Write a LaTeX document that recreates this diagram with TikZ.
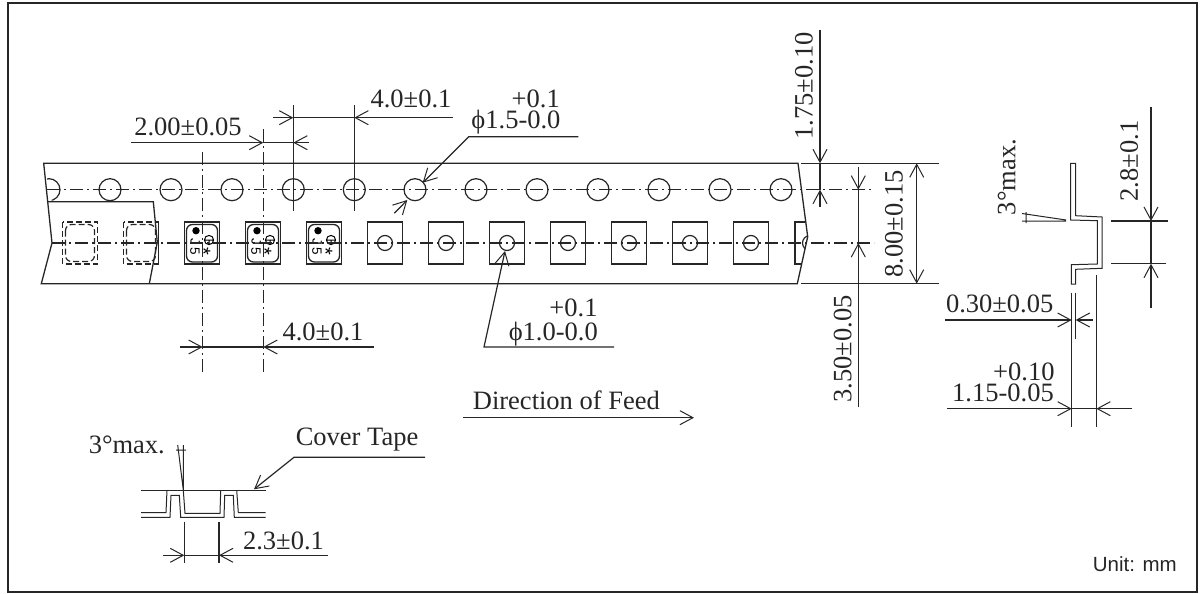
\documentclass[tikz,border=0pt]{standalone}
\usepackage{fontspec}
\setmainfont{Liberation Serif}
\setsansfont{Liberation Sans}
\usepackage{xcolor}
\usepackage{tikz}
\usetikzlibrary{arrows.meta}
\colorlet{inkgray}{black!85}
\newcommand\dimfont{\fontsize{26.5}{26.5}\selectfont}
\tikzstyle{dimhead}=[>/.tip={Straight Barb[length=13pt,width=14pt,line width=1pt]}]
\tikzstyle{dim}=[line width=1.2pt,dimhead,inkgray]
\tikzstyle{body}=[line width=1.3pt,inkgray]
\tikzstyle{fineline}=[line width=1pt,inkgray]
\tikzstyle{centerline}=[line width=1.1pt,inkgray,dash pattern=on 13pt off 4pt on 2pt off 4pt]
\tikzstyle{hidden}=[line width=1.2pt,inkgray,dash pattern=on 6pt off 3pt]
\tikzstyle{dimtext}=[inner sep=0pt,font=\dimfont,inkgray]
\tikzstyle{hole}=[circle,draw,line width=1.2pt,inkgray,minimum size=22pt,inner sep=0pt]
\tikzstyle{pinhole}=[circle,draw,line width=1.2pt,inkgray,minimum size=15pt,inner sep=0pt]
\tikzstyle{pocket}=[draw,line width=1.2pt,inkgray,minimum width=35pt,minimum height=42pt,inner sep=0pt]
\tikzstyle{marktext}=[inner sep=0pt,font=\sffamily\fontsize{13.5}{13.5}\selectfont,rotate=-90]
\newcommand\partmark[2]{%
	\node[pocket] (part#1) at (#2,243) {};
	\draw[body,rounded corners=6pt] (#2-15.5,243-18.5) rectangle (#2+15.5,243+19);
	\fill (#2-6,243-12.3) circle (3.7);
	\node[marktext] (partj#1) at (#2-6.7,243-1.3) {J};
	\node[marktext] (partv#1) at (#2-7,243+8.7) {5};
	\node[marktext,font=\sffamily\fontsize{20}{20}\selectfont] (parts#1) at (#2+1.5,243+8.7) {*};
	\draw[line width=1pt] (#2+7,243-3) circle (4.6) (#2+2.5,243-3) -- (#2+11.5,243-3) (#2+7,243-3) -- (#2+7,243+1.5);
}
\begin{document}
\begin{tikzpicture}[x=1pt,y=-1pt]
	\useasboundingbox (0,0) rectangle (1203,594);
	\draw[line width=2pt,inkgray] (8,3) rectangle (1197,592);
	% tape outline
	\draw[body] (798,163.3) -- (43.7,163.3) -- (52,243) -- (41.3,283.7) -- (797.3,283.7) -- (807.7,236.7) -- cycle;
	\draw[body] (801.3,163.3) -- (939,163.3) (801.3,283.7) -- (939,283.7);
	% cover tape
	\draw[body] (47.3,201.7) -- (153.3,201.7) -- (157.3,242.3) -- (149.3,283.7);
	% feed holes
	\begin{scope}
		\clip (43.7,163.3) -- (52,201.7) -- (70,201.7) -- (70,163.3) -- cycle;
		\node[hole] (hole0) at (49,189.7) {};
	\end{scope}
	\foreach \x [count=\i] in {110,171,232,293.3,354.3,415,476,537,598,659,720,781}
		\node[hole] (hole\i) at (\x,189.7) {};
	% pockets
	\foreach \x/\n in {80/a,141/b} {
		\draw[hidden] (\x-17.5,222) rectangle (\x+17.5,264);
		\draw[hidden,rounded corners=6pt] (\x-14.5,224.5) rectangle (\x+14.5,261.5);
	}
	\draw[body] (155,222) -- (158.7,222) -- (158.7,264) -- (155,264);
	\partmark{1}{202}
	\partmark{2}{263}
	\partmark{3}{324}
	\foreach \x [count=\i] in {385,446,507,568,629,690,751} {
		\node[pocket] (pocket\i) at (\x,243) {};
		\node[pinhole] (pin\i) at (\x,243) {};
	}
	\begin{scope}
		\clip (780,200) -- (803.7,200) -- (807.7,236.7) -- (797.3,283.7) -- (780,283.7) -- cycle;
		\node[pocket] (pocket8) at (812.5,243) {};
		\node[pinhole] (pin8) at (810,243) {};
	\end{scope}
	% center lines
	\draw[centerline] (47,189.7) -- (873,189.7);
	\draw[centerline] (52,243) -- (874,243);
	\draw[centerline] (202.7,151.7) -- (202.7,372);
	\draw[centerline] (263.3,129) -- (263.3,372);
	% pitch of the feed holes
	\draw[dim] (293.3,105) -- (293.3,210.7);
	\draw[dim] (354.3,105) -- (354.3,210.7);
	\draw[dim,->] (273,117.7) -- (293.3,117.7);
	\draw[dim] (293.3,117.7) -- (354.3,117.7);
	\draw[dim,->] (453.3,117.7) -- (354.3,117.7);
	\node[dimtext] (pitchhole) at (411,99.3) {4.0±0.1};
	% hole to pocket offset
	\draw[dim,->] (131,142.7) -- (263.3,142.7);
	\draw[dim] (263.3,142.7) -- (293.3,142.7);
	\draw[dim,->] (309,142.7) -- (293.3,142.7);
	\node[dimtext] (offset) at (188,127) {2.00±0.05};
	% feed hole diameter
	\draw[dim,->] (578.3,136.7) -- (468.7,136.7) -- (422.7,182.7);
	\draw[dim,->] (394.3,213.3) -- (407.3,200);
	\node[dimtext,anchor=east] (holeplus) at (560,99.3) {+0.1};
	\node[dimtext,anchor=east] (holedia) at (560.7,121.7) {ϕ1.5-0.0};
	% pocket pitch
	\draw[dim,->] (180,347) -- (202.7,347);
	\draw[dim] (202.7,347) -- (263.3,347);
	\draw[dim,->] (374,347) -- (263.3,347);
	\node[dimtext] (pitchpart) at (323,332) {4.0±0.1};
	% pocket hole diameter
	\draw[dim,->] (614,347) -- (484,347) -- (505,251);
	\node[dimtext,anchor=east] (pinplus) at (597.7,308) {+0.1};
	\node[dimtext,anchor=east] (pindia) at (598,334.3) {ϕ1.0-0.0};
	% feed direction
	\draw[dim,->] (463.3,417.7) -- (694,417.7);
	\node[dimtext,anchor=west] (feed) at (472.7,400.7) {Direction of Feed};
	% tape edge dimensions
	\draw[dim,->] (820,30) -- (820,163.3);
	\draw[dim] (820,163.3) -- (820,189.7);
	\draw[dim,->] (820,206.7) -- (820,189.7);
	\node[dimtext,rotate=90] (edgehole) at (804,86) {1.75±0.10};
	\draw[dim,->] (858.3,167.3) -- (858.3,189.7);
	\draw[dim] (858.3,189.7) -- (858.3,243);
	\draw[dim,->] (858.3,407.3) -- (858.3,243);
	\node[dimtext,rotate=90] (edgepart) at (842.7,349) {3.50±0.05};
	\draw[dim,<->] (916.7,163.3) -- (916.7,283.7);
	\node[dimtext,rotate=90] (width) at (894,224) {8.00±0.15};
	% side section
	\draw[fineline] (1070.7,163.3) -- (1075.7,163.3) -- (1075.7,215.7) -- (1102,217) -- (1102,268.3) -- (1075.7,269.3) -- (1075.7,284) -- (1071.3,284) -- (1071.3,264.7) -- (1097.3,264) -- (1097.3,220.7) -- (1070.7,220) -- cycle;
	\draw[fineline] (1066,220) -- (1022,213.5) (1066,221) -- (1022,221) (1026,212) -- (1026,223);
	\node[dimtext,rotate=90] (draftside) at (1006.7,177) {3°max.};
	\draw[dim] (1111,221) -- (1167.7,221) (1111,263.7) -- (1166,263.7);
	\draw[dim,->] (1151,107) -- (1151,221);
	\draw[dim] (1151,221) -- (1151,263.7);
	\draw[dim,->] (1151,308) -- (1151,263.7);
	\node[dimtext,rotate=90] (depth) at (1129.3,161) {2.8±0.1};
	\draw[dim] (1071.7,292.7) -- (1071.7,426.7);
	\draw[dim] (1075.7,292.7) -- (1075.7,339.3);
	\draw[dim] (1096.3,275) -- (1096.3,426.7);
	\draw[dim,->] (945,320) -- (1071.7,320);
	\draw[dim,->] (1092.7,320) -- (1075.7,320);
	\node[dimtext,anchor=east] (thick) at (1053.5,304) {0.30±0.05};
	\draw[dim,->] (947.3,408.7) -- (1071.7,408.7);
	\draw[dim] (1071.7,408.7) -- (1096.3,408.7);
	\draw[dim,->] (1132.3,408.7) -- (1096.3,408.7);
	\node[dimtext,anchor=east] (wallplus) at (1054.7,371.7) {+0.10};
	\node[dimtext,anchor=east] (wall) at (1054,393) {1.15-0.05};
	% cross section with cover tape
	\draw[fineline] (141,490.3) -- (265.7,490.3);
	\draw[fineline] (141,512.7) -- (166,512.7) -- (167,490.3) (183.3,490.3) -- (185,513.3) -- (220,513.3) -- (220.7,490.3) (236.7,490.3) -- (238.3,512.7) -- (265.7,512.7);
	\draw[fineline] (141,517.3) -- (170,517.3) -- (171,495.3) -- (179.3,495.3) -- (180.7,517.3) -- (224,517.3) -- (224.7,495.3) -- (233.3,495.3) -- (234.3,517.3) -- (265.7,517.3);
	\draw[fineline] (183.3,490) -- (177.7,445) (183.3,490) -- (183.3,445) (176,450) -- (186,450);
	\node[dimtext] (draftfront) at (126.8,445) {3°max.};
	\draw[dim,->] (425,457.3) -- (294,457.3) -- (254,489.3);
	\node[dimtext] (cover) at (357,440) {Cover Tape};
	\draw[dim] (184.3,521.7) -- (184.3,563.3) (219,521.7) -- (219,563.3);
	\draw[dim,->] (163.3,555.3) -- (184.3,555.3);
	\draw[dim] (184.3,555.3) -- (219,555.3);
	\draw[dim,->] (327.7,555.3) -- (219,555.3);
	\node[dimtext] (pitchcover) at (283.5,540.7) {2.3±0.1};
	\node[inner sep=0pt,font=\sffamily\fontsize{20.5}{20.5}\selectfont,inkgray,anchor=east] (unit) at (1177,564) {Unit: mm};
\end{tikzpicture}
\end{document}
